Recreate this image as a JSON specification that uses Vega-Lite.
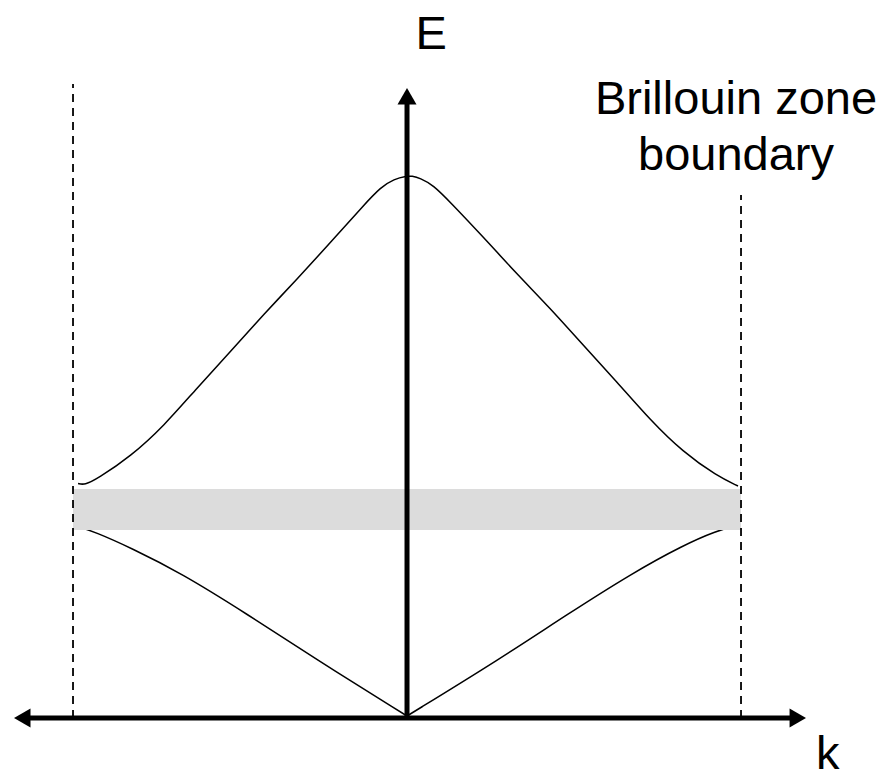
{
  "$schema": "https://vega.github.io/schema/vega-lite/v6.json",
  "width": 884,
  "height": 775,
  "autosize": {"type": "none"},
  "padding": 0,
  "background": "white",
  "config": {"view": {"stroke": null}},
  "datasets": {
    "band": [{"k0": -1, "k1": 1, "e0": 1.88, "e1": 2.29}],
    "bounds": [{"k": -1, "e0": 0, "e1": 6.34}, {"k": 1, "e0": 0, "e1": 5.23}],
    "upper": [
      {"k": -0.985, "E": 2.345},
      {"k": -0.965, "E": 2.33},
      {"k": -0.928, "E": 2.39},
      {"k": -0.826, "E": 2.62},
      {"k": -0.728, "E": 2.92},
      {"k": -0.629, "E": 3.30},
      {"k": -0.527, "E": 3.67},
      {"k": -0.428, "E": 4.04},
      {"k": -0.329, "E": 4.39},
      {"k": -0.228, "E": 4.76},
      {"k": -0.129, "E": 5.13},
      {"k": -0.078, "E": 5.31},
      {"k": -0.039, "E": 5.39},
      {"k": 0.0, "E": 5.42},
      {"k": 0.014, "E": 5.42},
      {"k": 0.039, "E": 5.40},
      {"k": 0.078, "E": 5.33},
      {"k": 0.129, "E": 5.16},
      {"k": 0.228, "E": 4.81},
      {"k": 0.329, "E": 4.44},
      {"k": 0.428, "E": 4.10},
      {"k": 0.527, "E": 3.73},
      {"k": 0.629, "E": 3.36},
      {"k": 0.728, "E": 2.98},
      {"k": 0.826, "E": 2.66},
      {"k": 0.928, "E": 2.42},
      {"k": 0.991, "E": 2.32}
    ],
    "lower": [
      {"side": "L", "k": -0.99, "E": 1.92},
      {"side": "L", "k": -0.934, "E": 1.86},
      {"side": "L", "k": -0.826, "E": 1.70},
      {"side": "L", "k": -0.677, "E": 1.45},
      {"side": "L", "k": -0.479, "E": 1.04},
      {"side": "L", "k": -0.278, "E": 0.60},
      {"side": "L", "k": 0.0, "E": 0.02},
      {"side": "R", "k": 0.0, "E": 0.02},
      {"side": "R", "k": 0.278, "E": 0.59},
      {"side": "R", "k": 0.479, "E": 1.035},
      {"side": "R", "k": 0.677, "E": 1.454},
      {"side": "R", "k": 0.826, "E": 1.726},
      {"side": "R", "k": 0.928, "E": 1.874},
      {"side": "R", "k": 0.976, "E": 1.91}
    ],
    "axes": [
      {"k0": -1.13, "k1": 1.15, "e0": 0, "e1": 0},
      {"k0": 0, "k1": 0, "e0": 0, "e1": 6.15}
    ],
    "arrows": [
      {"dir": "left", "k": -1.152, "E": 0},
      {"dir": "right", "k": 1.170, "E": 0},
      {"dir": "up", "k": 0, "E": 6.218}
    ],
    "labels": [
      {"label": "E", "k": 0.072, "E": 6.69},
      {"label": "Brillouin zone", "k": 0.985, "E": 6.04},
      {"label": "boundary", "k": 0.985, "E": 5.48},
      {"label": "k", "k": 1.260, "E": -0.51}
    ]
  },
  "layer": [
    {
      "data": {"name": "upper"},
      "mark": {"type": "line", "color": "black", "strokeWidth": 1.5, "interpolate": "basis"},
      "encoding": {
        "x": {"field": "k", "type": "quantitative", "scale": {"domain": [-1.2186, 1.4281], "nice": false, "zero": false}, "axis": null},
        "y": {"field": "E", "type": "quantitative", "scale": {"domain": [-0.57, 7.18], "nice": false, "zero": false}, "axis": null}
      }
    },
    {
      "data": {"name": "lower"},
      "mark": {"type": "line", "color": "black", "strokeWidth": 1.5, "interpolate": "basis"},
      "encoding": {
        "x": {"field": "k", "type": "quantitative"},
        "y": {"field": "E", "type": "quantitative"},
        "detail": {"field": "side", "type": "nominal"},
        "order": {"field": "k", "type": "quantitative"}
      }
    },
    {
      "data": {"name": "band"},
      "mark": {"type": "rect", "color": "#dcdcdc"},
      "encoding": {
        "x": {"field": "k0", "type": "quantitative"},
        "x2": {"field": "k1"},
        "y": {"field": "e0", "type": "quantitative"},
        "y2": {"field": "e1"}
      }
    },
    {
      "data": {"name": "bounds"},
      "mark": {"type": "rule", "color": "black", "strokeWidth": 1.8, "strokeDash": [8, 6]},
      "encoding": {
        "x": {"field": "k", "type": "quantitative"},
        "y": {"field": "e0", "type": "quantitative"},
        "y2": {"field": "e1"}
      }
    },
    {
      "data": {"name": "axes"},
      "mark": {"type": "rule", "color": "black", "strokeWidth": 5},
      "encoding": {
        "x": {"field": "k0", "type": "quantitative"},
        "x2": {"field": "k1"},
        "y": {"field": "e0", "type": "quantitative"},
        "y2": {"field": "e1"}
      }
    },
    {
      "data": {"name": "arrows"},
      "mark": {"type": "point", "filled": true, "color": "black", "size": 361, "opacity": 1},
      "encoding": {
        "x": {"field": "k", "type": "quantitative"},
        "y": {"field": "E", "type": "quantitative"},
        "shape": {"field": "dir", "type": "nominal", "scale": {"domain": ["left", "right", "up"], "range": ["triangle-left", "triangle-right", "triangle-up"]}, "legend": null}
      }
    },
    {
      "data": {"name": "labels"},
      "mark": {"type": "text", "font": "Liberation Sans", "fontSize": 47, "color": "black", "align": "center", "baseline": "alphabetic"},
      "encoding": {
        "x": {"field": "k", "type": "quantitative"},
        "y": {"field": "E", "type": "quantitative"},
        "text": {"field": "label"}
      }
    }
  ]
}
